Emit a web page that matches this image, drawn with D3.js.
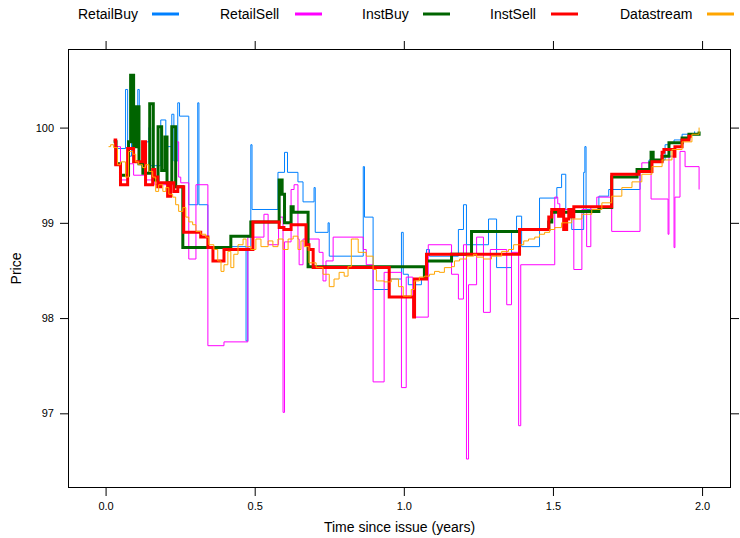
<!DOCTYPE html>
<html>
<head>
<meta charset="utf-8">
<script src="https://cdn.jsdelivr.net/npm/d3@7"></script>
<style>
body { margin: 0; background: #fff; }
text { font-family: "Liberation Sans", Arial, sans-serif; }
</style>
</head>
<body>
<div id="chart"></div>
<script>
var width = 740;
var height = 538;

// series names, colours and line widths (legend order = drawing order)
const seriesNames = ["RetailBuy", "RetailSell", "InstBuy", "InstSell", "Datastream"];
const seriesColors = ["#0080ff", "#ff00ff", "#006400", "#ff0000", "#ffa500"];
const seriesWidths = [1, 1, 3, 3, 1];

const xTicks = [0, 0.5, 1, 1.5, 2];
const yTicks = [97, 98, 99, 100];

// [years since issue, price]
const retailBuy = [
	[0.030, 99.78], [0.067, 100.40], [0.074, 99.70], [0.087, 99.90], [0.108, 100.40],
	[0.113, 99.62], [0.128, 99.85], [0.145, 100.00], [0.151, 99.60], [0.185, 100.08],
	[0.202, 99.80], [0.222, 100.14], [0.229, 99.65], [0.242, 100.26], [0.248, 100.12],
	[0.279, 99.19], [0.309, 100.26], [0.313, 99.19], [0.343, 98.75], [0.471, 97.76],
	[0.477, 98.75], [0.487, 99.82], [0.491, 99.14], [0.578, 99.53], [0.600, 99.74],
	[0.610, 99.53], [0.645, 99.43], [0.662, 99.22], [0.699, 99.37], [0.703, 98.90],
	[0.746, 99.00], [0.750, 98.65], [0.864, 99.59], [0.868, 99.06], [0.897, 98.30],
	[0.948, 98.41], [0.992, 98.90], [0.998, 98.46], [1.015, 98.35], [1.059, 98.41],
	[1.076, 98.72], [1.086, 98.65], [1.183, 98.93], [1.200, 99.19], [1.210, 98.77],
	[1.284, 99.04], [1.311, 98.53], [1.361, 98.90], [1.378, 99.07], [1.395, 98.75],
	[1.455, 99.26], [1.513, 99.37], [1.529, 99.51], [1.543, 99.14], [1.563, 98.93],
	[1.603, 99.53], [1.607, 99.80], [1.611, 99.14], [1.654, 99.28], [1.687, 99.35],
	[1.792, 99.56], [1.822, 99.66], [1.876, 99.82], [1.892, 99.84], [1.906, 99.87],
	[1.933, 99.93], [1.975, 99.96]
];

const retailSell = [
	[0.030, 99.80], [0.050, 99.45], [0.074, 99.62], [0.094, 99.50], [0.134, 99.45],
	[0.165, 99.40], [0.238, 99.85], [0.245, 99.48], [0.252, 99.42], [0.279, 98.62],
	[0.303, 99.40], [0.343, 97.71], [0.397, 97.75], [0.477, 98.85], [0.531, 99.09],
	[0.545, 98.77], [0.580, 99.06], [0.595, 97.01], [0.600, 98.80], [0.622, 99.35],
	[0.632, 99.40], [0.645, 98.83], [0.649, 98.56], [0.662, 98.83], [0.716, 98.69],
	[0.729, 98.39], [0.739, 98.60], [0.763, 98.85], [0.864, 98.72], [0.874, 98.56],
	[0.897, 97.33], [0.934, 98.48], [0.992, 97.27], [1.008, 98.43], [1.030, 98.01],
	[1.082, 98.77], [1.160, 98.46], [1.183, 98.20], [1.200, 98.77], [1.210, 96.52],
	[1.217, 98.35], [1.244, 98.85], [1.267, 98.06], [1.290, 98.72], [1.345, 98.14],
	[1.361, 98.69], [1.385, 96.87], [1.392, 98.56], [1.506, 99.27], [1.516, 99.20],
	[1.523, 99.14], [1.570, 98.51], [1.597, 99.14], [1.613, 98.75], [1.627, 99.17],
	[1.647, 99.27], [1.697, 98.91], [1.792, 99.56], [1.798, 99.63], [1.829, 99.25],
	[1.886, 98.88], [1.889, 99.70], [1.906, 98.74], [1.909, 99.27], [1.926, 99.75],
	[1.943, 99.59], [1.990, 99.35]
];

const instBuy = [
	[0.027, 99.85], [0.035, 99.62], [0.050, 99.50], [0.077, 99.85], [0.084, 100.55],
	[0.094, 99.80], [0.104, 100.22], [0.112, 99.62], [0.125, 99.52], [0.148, 100.25],
	[0.160, 99.45], [0.176, 100.01], [0.188, 99.55], [0.199, 99.90], [0.206, 99.42],
	[0.222, 100.01], [0.235, 99.38], [0.259, 98.74], [0.420, 98.86], [0.487, 99.01],
	[0.582, 99.45], [0.592, 99.30], [0.600, 99.00], [0.622, 99.17], [0.629, 99.11],
	[0.679, 98.54], [1.069, 98.43], [1.076, 98.60], [1.160, 98.67], [1.227, 98.91],
	[1.388, 98.93], [1.486, 99.01], [1.496, 99.11], [1.563, 99.12], [1.654, 99.16],
	[1.697, 99.48], [1.782, 99.56], [1.825, 99.63], [1.829, 99.74], [1.836, 99.66],
	[1.866, 99.70], [1.889, 99.84], [1.933, 99.89], [1.956, 99.93], [1.990, 99.96]
];

const instSell = [
	[0.027, 99.87], [0.034, 99.61], [0.050, 99.40], [0.074, 99.78], [0.094, 99.64],
	[0.124, 99.85], [0.134, 99.40], [0.158, 99.56], [0.165, 99.48], [0.175, 99.38],
	[0.185, 99.42], [0.208, 99.28], [0.218, 99.42], [0.229, 99.33], [0.242, 99.38],
	[0.262, 98.90], [0.319, 98.85], [0.343, 98.74], [0.360, 98.60], [0.397, 98.72],
	[0.494, 99.01], [0.582, 98.95], [0.598, 98.93], [0.622, 98.98], [0.672, 98.77],
	[0.682, 98.72], [0.696, 98.53], [0.951, 98.22], [1.033, 98.01], [1.036, 98.41],
	[1.076, 98.67], [1.388, 98.93], [1.486, 99.06], [1.496, 99.14], [1.519, 99.07],
	[1.529, 99.14], [1.536, 98.93], [1.546, 99.04], [1.553, 99.14], [1.563, 99.06],
	[1.570, 99.17], [1.697, 99.51], [1.788, 99.54], [1.832, 99.64], [1.866, 99.74],
	[1.872, 99.77], [1.906, 99.70], [1.909, 99.80], [1.933, 99.87], [1.956, 99.91],
	[1.966, 99.91]
];

const datastream = [
	[0.010, 99.80], [0.017, 99.82], [0.027, 99.79], [0.040, 99.61], [0.050, 99.64],
	[0.067, 99.48], [0.077, 99.75], [0.091, 99.72], [0.101, 99.64], [0.111, 99.61],
	[0.124, 99.58], [0.134, 99.61], [0.145, 99.54], [0.158, 99.48], [0.168, 99.33],
	[0.178, 99.40], [0.192, 99.33], [0.202, 99.37], [0.212, 99.30], [0.225, 99.27],
	[0.235, 99.19], [0.245, 99.12], [0.259, 99.16], [0.269, 99.06], [0.279, 99.01],
	[0.292, 98.98], [0.303, 98.91], [0.319, 98.88], [0.336, 98.85], [0.346, 98.77],
	[0.363, 98.72], [0.376, 98.60], [0.387, 98.49], [0.397, 98.56], [0.410, 98.70],
	[0.420, 98.53], [0.430, 98.67], [0.444, 98.77], [0.461, 98.83], [0.471, 98.75],
	[0.487, 98.72], [0.504, 98.83], [0.521, 98.75], [0.545, 98.81], [0.561, 98.75],
	[0.578, 98.83], [0.595, 98.72], [0.612, 98.83], [0.629, 98.86], [0.645, 98.72],
	[0.655, 98.81], [0.666, 98.75], [0.682, 98.58], [0.706, 98.53], [0.729, 98.46],
	[0.750, 98.33], [0.766, 98.41], [0.783, 98.48], [0.800, 98.44], [0.813, 98.54],
	[0.824, 98.83], [0.834, 98.83], [0.847, 98.69], [0.874, 98.65], [0.897, 98.51],
	[0.908, 98.39], [0.934, 98.38], [0.958, 98.41], [0.982, 98.33], [0.998, 98.23],
	[1.015, 98.23], [1.025, 98.30], [1.035, 98.39], [1.052, 98.43], [1.069, 98.44],
	[1.086, 98.46], [1.103, 98.49], [1.119, 98.48], [1.136, 98.53], [1.160, 98.54],
	[1.170, 98.60], [1.187, 98.62], [1.210, 98.65], [1.234, 98.67], [1.244, 98.64],
	[1.267, 98.62], [1.294, 98.65], [1.328, 98.70], [1.351, 98.72], [1.368, 98.77],
	[1.385, 98.77], [1.402, 98.81], [1.418, 98.83], [1.439, 98.85], [1.455, 98.88],
	[1.472, 98.90], [1.489, 98.93], [1.506, 98.95], [1.529, 99.00], [1.563, 99.04],
	[1.597, 99.09], [1.630, 99.14], [1.664, 99.21], [1.697, 99.28], [1.731, 99.37],
	[1.765, 99.43], [1.798, 99.51], [1.832, 99.59], [1.866, 99.66], [1.899, 99.77],
	[1.933, 99.85], [1.966, 99.93], [1.990, 100.00]
];

const allSeries = [retailBuy, retailSell, instBuy, instSell, datastream];

// panel box
var panelLeft = 68, panelRight = 731, panelTop = 49, panelBottom = 488;

var svg = d3
	.select("#chart")
	.append("svg")
	.attr("width", width)
	.attr("height", height);

var x = d3.scaleLinear().domain([-0.126, 2.097]).range([panelLeft, panelRight]);
var y = d3.scaleLinear().domain([96.216, 100.825]).range([panelBottom, panelTop]);

// axes (ticks on all four sides like lattice, labels left/bottom)
svg.append("g")
	.attr("transform", "translate(0," + panelBottom + ")")
	.call(d3.axisBottom(x).tickValues(xTicks).tickFormat(d3.format(".1f")).tickSize(8).tickPadding(6));
svg.append("g")
	.attr("transform", "translate(0," + panelTop + ")")
	.call(d3.axisTop(x).tickValues(xTicks).tickFormat("").tickSize(8));
svg.append("g")
	.attr("transform", "translate(" + panelLeft + ",0)")
	.call(d3.axisLeft(y).tickValues(yTicks).tickFormat(d3.format("d")).tickSize(8).tickPadding(6));
svg.append("g")
	.attr("transform", "translate(" + panelRight + ",0)")
	.call(d3.axisRight(y).tickValues(yTicks).tickFormat("").tickSize(8));

svg.selectAll(".domain").remove();
svg.selectAll(".tick text")
	.attr("font-size", 11)
	.attr("font-family", "Liberation Sans, Arial, sans-serif")
	.attr("fill", "#000");
svg.selectAll(".tick line").attr("stroke", "#000");

svg.append("clipPath").attr("id", "panel")
	.append("rect")
	.attr("x", panelLeft).attr("y", panelTop)
	.attr("width", panelRight - panelLeft).attr("height", panelBottom - panelTop);

var line = d3.line()
	.x((d) => x(d[0]))
	.y((d) => y(d[1]))
	.curve(d3.curveStepAfter);

svg.append("g")
	.attr("clip-path", "url(#panel)")
	.selectAll("path")
	.data(allSeries)
	.join("path")
	.attr("d", line)
	.attr("fill", "none")
	.attr("stroke", (d, i) => seriesColors[i])
	.attr("stroke-width", (d, i) => seriesWidths[i]);

// frame
svg.append("rect")
	.attr("x", panelLeft + 0.5).attr("y", panelTop + 0.5)
	.attr("width", panelRight - panelLeft - 1).attr("height", panelBottom - panelTop - 1)
	.attr("fill", "none")
	.attr("stroke", "#000");

// axis titles
svg.append("text")
	.attr("x", (panelLeft + panelRight) / 2)
	.attr("y", 532)
	.attr("text-anchor", "middle")
	.attr("font-size", 14)
	.text("Time since issue (years)");

svg.append("text")
	.attr("transform", "translate(21," + (panelTop + panelBottom) / 2 + ") rotate(-90)")
	.attr("text-anchor", "middle")
	.attr("font-size", 14)
	.text("Price");

// legend across the top
const legendTextX = [78, 220, 362, 490, 620];
const legendLineX = [152, 295, 423, 551, 707];

var key = svg.append("g").selectAll("g")
	.data(seriesNames)
	.join("g");

key.append("text")
	.attr("x", (d, i) => legendTextX[i])
	.attr("y", 19)
	.attr("font-size", 14)
	.text((d) => d);

key.append("line")
	.attr("x1", (d, i) => legendLineX[i])
	.attr("x2", (d, i) => legendLineX[i] + 27)
	.attr("y1", 14)
	.attr("y2", 14)
	.attr("stroke", (d, i) => seriesColors[i])
	.attr("stroke-width", 3);
</script>
</body>
</html>
